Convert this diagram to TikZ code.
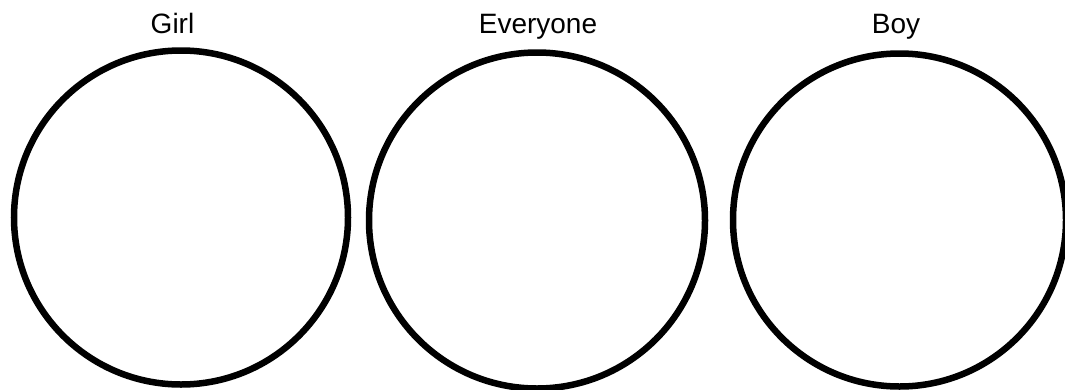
\documentclass[tikz,border=0pt]{standalone}
\usepackage{fontspec}
\setmainfont{Liberation Sans}
\begin{document}
\begin{tikzpicture}[x=1pt, y=-1pt, ring/.style={line width=6.5pt, black}, title/.style={anchor=base, inner sep=0pt, font=\fontsize{28}{34}\selectfont}]
    \useasboundingbox (0,0) rectangle (1065,389);
    % the three circles
    \draw[ring] (181,217.5) circle (167);
    \draw[ring] (537,220.5) circle (168);
    \draw[ring] (899.5,220) circle (166.5);
    % titles above them
    \node[title] (girl) at (172.5,33) {Girl};
    \node[title] (everyone) at (538,33) {Everyone};
    \node[title] (boy) at (896,33) {Boy};
\end{tikzpicture}
\end{document}
